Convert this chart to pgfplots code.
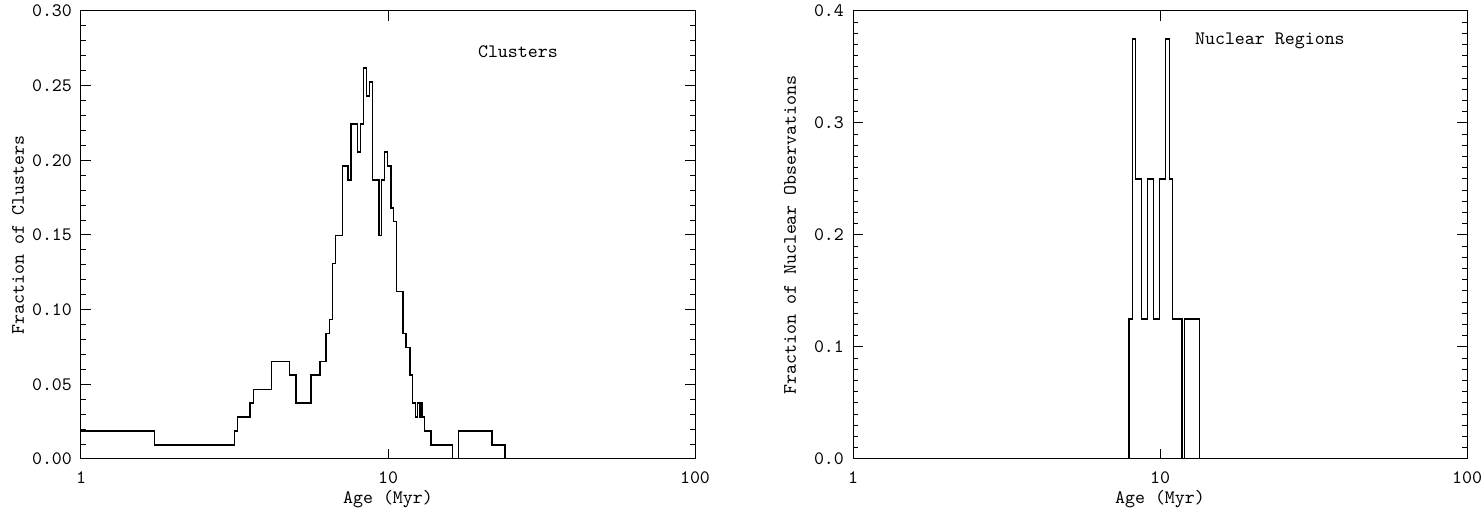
\documentclass[border=0pt]{standalone}
\usepackage{pgfplots}
\pgfplotsset{compat=1.18}
\begin{document}
\begin{tikzpicture}
\pgfplotsset{
  every axis/.append style={
    scale only axis, width=307pt, height=224pt,
    xmode=log, xmin=1, xmax=100,
    xtick={1,10,100}, xticklabels={1,10,100},
    log basis x=10,
    font=\fontsize{9.5}{11}\selectfont\ttfamily,
    tick label style={font=\fontsize{9.5}{11}\selectfont\ttfamily},
    /pgf/number format/assume math mode=true,
    axis line style={line width=0.5pt},
    major tick length=5pt, minor tick length=2.5pt,
    every tick/.style={black, line width=0.5pt},
    tick align=inside,
    x tick label style={yshift=-3pt},
    every axis x label/.style={at={(axis description cs:0.5,0)}, anchor=center, yshift=-20pt},
    every axis y label/.style={at={(axis description cs:-0.1026,0.5)}, anchor=center, rotate=90},
    y tick label style={xshift=-1pt},
    scaled y ticks=false,
  },
  hist/.style={const plot mark left, black, line width=0.75pt, mark=none},
}
\begin{axis}[
  name=left, at={(0,0)}, anchor=south west,
  ymin=0, ymax=0.30,
  ytick={0,0.05,0.10,0.15,0.20,0.25,0.30},
  minor y tick num=4,
  yticklabel style={/pgf/number format/.cd, fixed, fixed zerofill, precision=2},
  xlabel={Age (Myr)}, ylabel={Fraction of Clusters},
]
\addplot[hist] coordinates {
(1.000,0.0187) (1.733,0.00935) (3.158,0.0187) (3.239,0.0280) (3.552,0.0374)
(3.641,0.0467) (4.180,0.0654) (4.771,0.0561) (5.016,0.0374) (5.614,0.0561)
(6.004,0.0654) (6.281,0.0841) (6.439,0.0935) (6.586,0.1308) (6.755,0.1495)
(7.098,0.1963) (7.408,0.1869) (7.577,0.2243) (7.943,0.2056) (8.124,0.2243)
(8.332,0.2617) (8.522,0.2430) (8.690,0.2523) (8.889,0.1869) (9.348,0.1495)
(9.539,0.1869) (9.756,0.2056) (9.977,0.1963) (10.23,0.1682) (10.41,0.1589)
(10.67,0.1121) (11.21,0.0841) (11.44,0.0748) (11.79,0.0561) (12.03,0.0374)
(12.27,0.0280) (12.49,0.0374) (12.65,0.0280) (12.71,0.0374) (12.90,0.0280)
(13.13,0.0187) (13.81,0.00935) (16.24,0) (16.94,0.0187) (21.82,0.00935)
(24.05,0) (100,0)
};
\node at (axis cs:26.5,0.273) {Clusters};
\end{axis}
\begin{axis}[
  name=right, at={(386pt,0)}, anchor=south west,
  ymin=0, ymax=0.4,
  ytick={0,0.1,0.2,0.3,0.4},
  minor y tick num=9,
  yticklabel style={/pgf/number format/.cd, fixed, fixed zerofill, precision=1},
  xlabel={Age (Myr)}, ylabel={Fraction of Nuclear Observations},
]
\addplot[hist] coordinates {
(1,0) (7.925,0.125) (8.150,0.375) (8.333,0.25) (8.718,0.125) (9.092,0.25)
(9.511,0.125) (9.977,0.25) (10.44,0.375) (10.72,0.25) (10.97,0.125)
(11.79,0) (12.00,0.125) (13.43,0) (100,0)
};
\node at (axis cs:22.8,0.373) {Nuclear Regions};
\end{axis}
\pgfresetboundingbox
\path[use as bounding box] (-40.5pt,-26.5pt) rectangle (701pt,229.5pt);
\end{tikzpicture}
\end{document}
